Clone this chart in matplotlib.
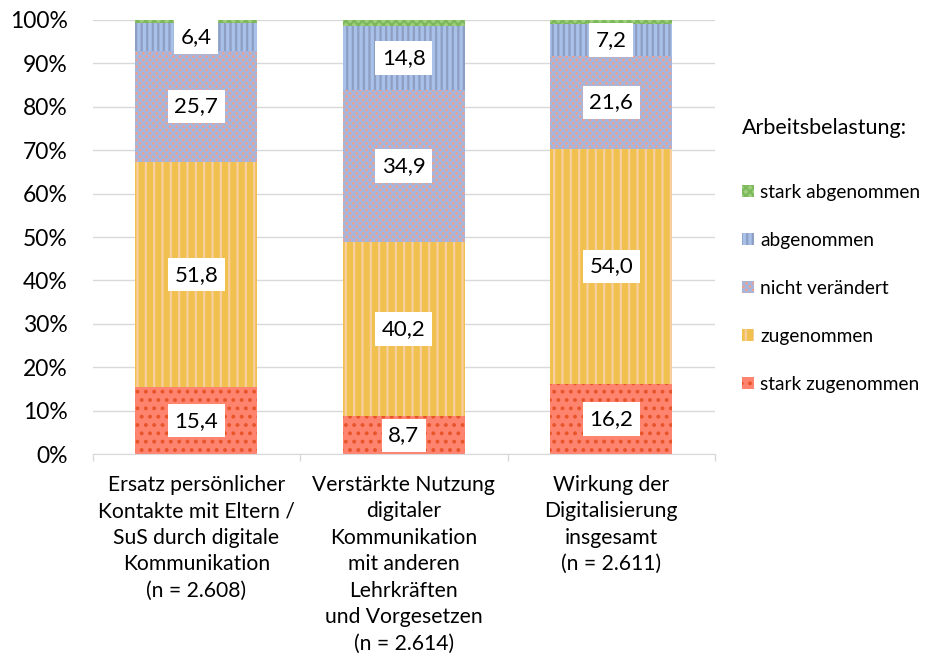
import matplotlib.pyplot as plt
import numpy as np

plt.rcParams["font.family"] = ["Lato", "DejaVu Sans"]
plt.rcParams["hatch.linewidth"] = 1.6

categories = [
    "Ersatz persönlicher\nKontakte mit Eltern /\nSuS durch digitale\nKommunikation\n(n = 2.608)",
    "Verstärkte Nutzung\ndigitaler\nKommunikation\nmit anderen\nLehrkräften\nund Vorgesetzen\n(n = 2.614)",
    "Wirkung der\nDigitalisierung\ninsgesamt\n(n = 2.611)",
]
series = ["stark zugenommen", "zugenommen", "nicht verändert", "abgenommen", "stark abgenommen"]
stark_zu = [15.4, 8.7, 16.2]
zu = [51.8, 40.2, 54.0]
unveraendert = [25.7, 34.9, 21.6]
ab = [6.4, 14.8, 7.2]
stark_ab = [0.7, 1.4, 1.0]
values = [stark_zu, zu, unveraendert, ab, stark_ab]
show_label = [True, True, True, True, False]

# fill colour, hatch colour, hatch pattern per series
styles = [
    ("#FF8470", "#E8552B", ".."),
    ("#F0C14F", "#F8CFA0", "||"),
    ("#F0A08E", "#A4B6DE", "xxxxx"),
    ("#A9C1E8", "#8E9EC2", "|||"),
    ("#9FCF7E", "#7DB85A", "xxxx"),
]

fig = plt.figure(figsize=(9.25, 6.64), dpi=100)
ax = fig.add_axes([0.1, 0.316, 0.673, 0.654])

x = np.arange(len(categories))
bottom = np.zeros(len(categories))
for name, vals, (fc, hc, hatch), lab in zip(series, values, styles, show_label):
    vals = np.array(vals)
    ax.bar(x, vals, width=0.59, bottom=bottom, color=fc, edgecolor=hc,
           hatch=hatch, linewidth=0, label=name, zorder=2)
    if lab:
        for xi, b, v in zip(x, bottom, vals):
            ax.text(xi, b + v / 2, f"{v:.1f}".replace(".", ","), ha="center",
                    va="center", fontsize=16, zorder=4,
                    bbox=dict(boxstyle="square,pad=0.3", fc="white", ec="none"))
    bottom += vals

ax.set_ylim(0, 100)
ax.set_xlim(-0.5, 2.5)
ax.set_yticks(np.arange(0, 101, 10))
ax.set_yticklabels([f"{t}%" for t in range(0, 101, 10)], fontsize=16.5)
ax.set_xticks(x)
ax.set_xticklabels(categories, fontsize=15.2, linespacing=1.4, va="top")
ax.tick_params(axis="y", length=0, pad=18)
ax.tick_params(axis="x", which="major", length=0, pad=15)
# small category separators below the axis
ax.set_xticks([-0.5, 0.5, 1.5, 2.5], minor=True)
ax.tick_params(axis="x", which="minor", length=5, color="#D9D9D9", width=1)
ax.yaxis.grid(True, color="#D9D9D9", linewidth=1, zorder=0)
ax.set_axisbelow(True)
for s in ["top", "right", "left"]:
    ax.spines[s].set_visible(False)
ax.spines["bottom"].set_color("#D9D9D9")

handles, labels = ax.get_legend_handles_labels()
leg = fig.legend(handles[::-1], labels[::-1], loc="upper left",
                 bbox_to_anchor=(0.792, 0.837), frameon=False, fontsize=13.8,
                 title="Arbeitsbelastung:", title_fontsize=15.5, borderpad=0,
                 handlelength=0.62, handleheight=0.62, handletextpad=0.33,
                 labelspacing=1.62, alignment="left")
leg._legend_box.sep = 33

fig.savefig("out.png", dpi=100)
